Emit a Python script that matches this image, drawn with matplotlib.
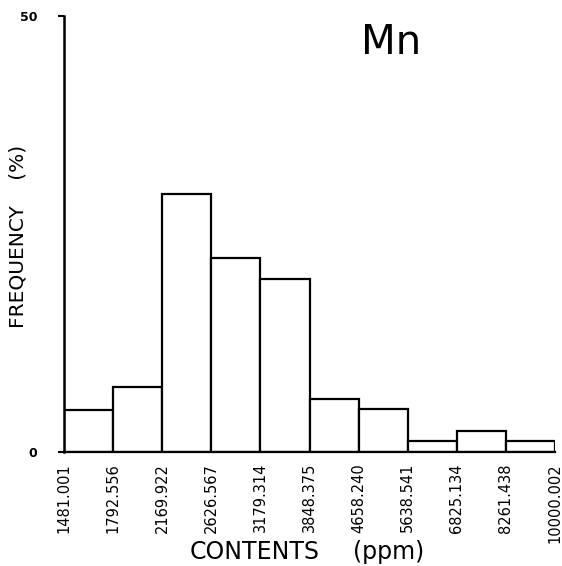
import matplotlib
matplotlib.use("Agg")
import matplotlib.pyplot as plt

edges = [1481.001, 1792.556, 2169.922, 2626.567, 3179.314, 3848.375,
         4658.240, 5638.541, 6825.134, 8261.438, 10000.002]
edge_labels = ["1481.001", "1792.556", "2169.922", "2626.567", "3179.314", "3848.375",
               "4658.240", "5638.541", "6825.134", "8261.438", "10000.002"]
freq = [4.8, 7.5, 29.6, 22.2, 19.8, 6.1, 4.9, 1.3, 2.4, 1.3]
element = "Mn"

W, H = 562, 566
fig = plt.figure(figsize=(W / 100, H / 100), dpi=100)
ax = fig.add_axes([64 / W, (H - 452) / H, 491 / W, 436 / H])

pos = list(range(len(edges)))
ax.bar([p + 0.5 for p in pos[:-1]], freq, width=1.0, color="white",
       edgecolor="black", linewidth=1.6)
ax.set_xlim(0, len(edges) - 1)
ax.set_ylim(0, 50)

for s in ["top", "right"]:
    ax.spines[s].set_visible(False)
ax.spines["left"].set_linewidth(1.8)
ax.spines["bottom"].set_linewidth(1.6)

ax.set_yticks([0, 50])
ax.set_yticklabels(["0", "50"], fontsize=9, fontweight="bold")
ax.tick_params(axis="y", length=4, width=1.5, direction="out", pad=15)
ax.set_xticks(pos)
ax.set_xticklabels(edge_labels, rotation=90, fontsize=10.5, va="top", ha="center")
ax.tick_params(axis="x", length=0, pad=8)

fig.text(190 / W, 1 - 552 / H, "CONTENTS", fontsize=17, ha="left", va="center")
fig.text(353 / W, 1 - 552 / H, "(ppm)", fontsize=17, ha="left", va="center")
fig.text(18 / W, 1 - 236 / H, "FREQUENCY    (%)", fontsize=14.5, rotation=90,
         ha="center", va="center")
fig.text(391 / W, 1 - 43 / H, element, fontsize=29, ha="center", va="center")

fig.savefig("out.png", dpi=100)
